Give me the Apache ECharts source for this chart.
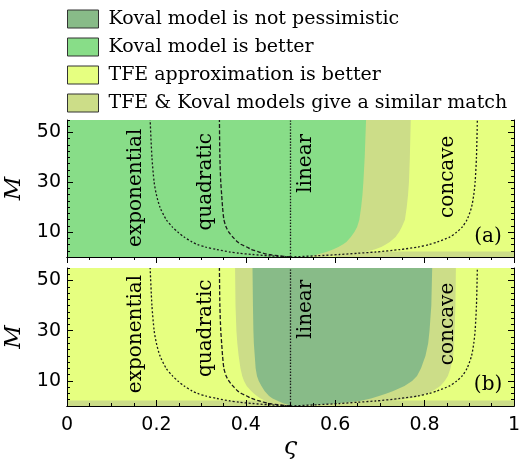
<!DOCTYPE html>
<html>
<head>
<meta charset="utf-8">
<script src="https://cdn.jsdelivr.net/npm/echarts@6/dist/echarts.min.js"></script>
<style>
html,body{margin:0;padding:0;background:#fff;}
#chart{width:519px;height:460px;}
</style>
</head>
<body>
<div id="chart"></div>
<script>
// ---------- data ----------
const M_GRID = [0, 0.5, 1, 1.5, 2, 3, 4, 5, 6, 8, 10, 12, 15, 20, 25, 30, 40, 55];

// reference curves (ς at each M of M_GRID)
const EXPONENTIAL = [0.5, 0.45, 0.415, 0.385, 0.365, 0.335, 0.31, 0.292, 0.28, 0.262, 0.248, 0.236, 0.222, 0.208, 0.2, 0.195, 0.19, 0.186];
const QUADRATIC   = [0.5, 0.472, 0.452, 0.44, 0.43, 0.413, 0.402, 0.39, 0.382, 0.371, 0.362, 0.356, 0.351, 0.348, 0.346, 0.344, 0.342, 0.341];
const CONCAVE     = [0.5, 0.56, 0.61, 0.65, 0.69, 0.745, 0.785, 0.81, 0.828, 0.856, 0.872, 0.884, 0.895, 0.905, 0.91, 0.913, 0.916, 0.918];
const LINEAR_X = 0.5;

// panel (a) region boundaries
const A_SIMILAR_FROM = [0.54, 0.55, 0.56, 0.57, 0.58, 0.595, 0.607, 0.617, 0.625, 0.635, 0.643, 0.649, 0.654, 0.658, 0.661, 0.663, 0.666, 0.669];
const A_TFE_FROM     = [0.58, 0.6, 0.62, 0.64, 0.665, 0.688, 0.703, 0.713, 0.722, 0.735, 0.743, 0.749, 0.756, 0.76, 0.763, 0.765, 0.767, 0.769];
const A_STRIP_FROM = 0.6;

// panel (b) region boundaries
const B_SIMILAR_LEFT  = [0.49, 0.475, 0.463, 0.452, 0.445, 0.433, 0.425, 0.418, 0.412, 0.402, 0.396, 0.392, 0.388, 0.384, 0.381, 0.379, 0.377, 0.376];
const B_SIMILAR_RIGHT = [0.55, 0.6, 0.65, 0.7, 0.73, 0.765, 0.79, 0.805, 0.818, 0.835, 0.845, 0.852, 0.858, 0.864, 0.866, 0.867, 0.869, 0.87];
const B_KOVAL_LEFT    = [0.5, 0.495, 0.485, 0.478, 0.472, 0.46, 0.452, 0.447, 0.442, 0.435, 0.429, 0.425, 0.422, 0.42, 0.418, 0.417, 0.416, 0.415];
const B_KOVAL_RIGHT   = [0.52, 0.56, 0.6, 0.63, 0.655, 0.68, 0.698, 0.715, 0.73, 0.755, 0.772, 0.783, 0.792, 0.802, 0.808, 0.811, 0.815, 0.817];

const STRIP_TOP_M = 2.2;

// axes
const X_MIN = 0, X_MAX = 1, X_STEP = 0.2;
const M_MIN = 0, M_MAX = 55;
const Y_TICKS = [10, 30, 50];
const Y_MINOR_STEP = 2.5;

// labels
const CURVE_LABELS = ['exponential', 'quadratic', 'linear', 'concave'];
const LABEL_X   = [0.155, 0.311, 0.535, 0.851];
const LABEL_M_A = [27.8, 30.2, 37.6, 32.2];
const LABEL_M_B = [28.7, 31.0, 38.6, 32.7];
const PANEL_TAGS = ['(a)', '(b)'];
const TAG_X = 0.942, TAG_M = [8.3, 8.4];

const NAMES = ['Koval model is not pessimistic', 'Koval model is better', 'TFE approximation is better', 'TFE & Koval models give a similar match'];
const COLORS = ['#88bb88', '#88dd88', '#e6ff80', '#ccdd88'];

// ---------- helpers ----------
const pts = xs => M_GRID.map((m, i) => [xs[i], m]);
const rightOf = xs => pts(xs).concat([[X_MAX, M_MAX], [X_MAX, M_MIN]]);
const between = (l, r) => pts(l).concat(pts(r).reverse());
const rect = (x0, x1, m0, m1) => [[x0, m0], [x1, m0], [x1, m1], [x0, m1]];

function poly(name, colorIdx, points, xi, yi, z) {
  const color = COLORS[colorIdx];
  return {
    type: 'custom', name: name, xAxisIndex: xi, yAxisIndex: yi, z: z, silent: true,
    itemStyle: { color: color }, data: [[0, 0]],
    renderItem: function (params, api) {
      return { type: 'polygon', shape: { points: points.map(p => api.coord(p)) }, style: { fill: color } };
    }
  };
}
function curve(xs, dash, xi, yi) {
  return {
    type: 'line', xAxisIndex: xi, yAxisIndex: yi, z: 8, silent: true, showSymbol: false, symbol: 'none',
    data: xs, smooth: 0.25,
    lineStyle: { color: '#1a1a1a', width: 1.3, type: dash }
  };
}
function labels(ms, xi, yi, tagIdx) {
  return {
    type: 'custom', xAxisIndex: xi, yAxisIndex: yi, z: 9, silent: true,
    data: CURVE_LABELS.map((t, i) => [LABEL_X[i], ms[i]]).concat([[TAG_X, TAG_M[tagIdx]]]),
    renderItem: function (params, api) {
      const p = api.coord([api.value(0), api.value(1)]);
      const isTag = params.dataIndex === CURVE_LABELS.length;
      return {
        type: 'text', x: p[0], y: p[1], rotation: isTag ? 0 : Math.PI / 2,
        style: {
          text: isTag ? PANEL_TAGS[tagIdx] : CURVE_LABELS[params.dataIndex],
          font: '20px "DejaVu Serif"', fill: '#000', align: 'center', verticalAlign: 'middle'
        }
      };
    }
  };
}

const axLine = { show: true, lineStyle: { color: '#000', width: 1 } };
function xAx(grid, pos, ticks, lbls) {
  const a = {
    gridIndex: grid, type: 'value', position: pos, min: X_MIN, max: X_MAX, interval: X_STEP, z: 10,
    axisLine: axLine, splitLine: { show: false },
    axisTick: { show: ticks, inside: true, length: 6, lineStyle: { color: '#000' } },
    minorTick: { show: ticks, splitNumber: 4, length: 3, lineStyle: { color: '#000' } },
    axisLabel: { show: lbls, fontFamily: 'DejaVu Sans', fontSize: 19, color: '#000', margin: 10 }
  };
  if (lbls) {
    a.name = 'ς'; a.nameLocation = 'middle'; a.nameGap = 28;
    a.nameTextStyle = { fontFamily: 'DejaVu Serif', fontStyle: 'italic', fontSize: 24, color: '#000' };
  }
  return a;
}
function yMajor(grid, pos) {
  const a = {
    gridIndex: grid, type: 'value', position: pos, min: M_MIN, max: M_MAX, interval: 10, z: 10,
    axisLine: axLine, splitLine: { show: false },
    axisTick: { show: true, inside: true, length: 6, customValues: Y_TICKS, lineStyle: { color: '#000' } },
    axisLabel: { show: pos === 'left', customValues: Y_TICKS, fontFamily: 'DejaVu Sans', fontSize: 19, color: '#000', margin: 6 }
  };
  if (pos === 'left') {
    a.name = 'M'; a.nameLocation = 'middle'; a.nameGap = 35; a.nameRotate = 90;
    a.nameTextStyle = { fontFamily: 'DejaVu Serif', fontStyle: 'italic', fontSize: 23, color: '#000' };
  }
  return a;
}
function yMinor(grid, pos) {
  return {
    gridIndex: grid, type: 'value', position: pos, min: M_MIN, max: M_MAX, interval: Y_MINOR_STEP, z: 10,
    axisLine: { show: false }, splitLine: { show: false }, axisLabel: { show: false },
    axisTick: { show: true, inside: true, length: 3, lineStyle: { color: '#000' } }
  };
}

const option = {
  animation: false,
  backgroundColor: '#fff',
  legend: {
    data: NAMES, orient: 'vertical', left: 67, top: 9, padding: 0,
    itemWidth: 31, itemHeight: 18, itemGap: 8, icon: 'rect', selectedMode: false,
    itemStyle: { borderColor: '#333', borderWidth: 1 },
    textStyle: { fontFamily: 'DejaVu Serif', fontSize: 19, lineHeight: 20, color: '#000', padding: [0, 0, 0, 5] }
  },
  grid: [
    { left: 67, top: 120, width: 447, height: 137, outerBoundsMode: 'none', containLabel: false },
    { left: 67, top: 268, width: 447, height: 138, outerBoundsMode: 'none', containLabel: false }
  ],
  xAxis: [
    xAx(0, 'bottom', false, false), xAx(0, 'top', true, false),
    xAx(1, 'bottom', true, true), xAx(1, 'top', false, false)
  ],
  yAxis: [
    yMajor(0, 'left'), yMinor(0, 'left'), yMajor(0, 'right'), yMinor(0, 'right'),
    yMajor(1, 'left'), yMinor(1, 'left'), yMajor(1, 'right'), yMinor(1, 'right')
  ],
  series: [
    poly(NAMES[0], 0, between(B_KOVAL_LEFT, B_KOVAL_RIGHT), 2, 4, 5),
    poly(NAMES[1], 1, rect(X_MIN, X_MAX, M_MIN, M_MAX), 0, 0, 1),
    poly(NAMES[2], 2, rightOf(A_TFE_FROM), 0, 0, 3),
    poly(NAMES[3], 3, rightOf(A_SIMILAR_FROM), 0, 0, 2),
    poly(NAMES[3], 3, rect(A_STRIP_FROM, X_MAX, M_MIN, STRIP_TOP_M), 0, 0, 4),
    poly(NAMES[2], 2, rect(X_MIN, X_MAX, M_MIN, M_MAX), 2, 4, 1),
    poly(NAMES[3], 3, between(B_SIMILAR_LEFT, B_SIMILAR_RIGHT), 2, 4, 2),
    poly(NAMES[3], 3, rect(X_MIN, X_MAX, M_MIN, STRIP_TOP_M), 2, 4, 3),
    curve(pts(EXPONENTIAL), [2, 2], 0, 0),
    curve(pts(QUADRATIC), [4, 2], 0, 0),
    curve([[LINEAR_X, M_MIN], [LINEAR_X, M_MAX]], [1.5, 1.5], 0, 0),
    curve(pts(CONCAVE), [2, 2], 0, 0),
    curve(pts(EXPONENTIAL), [2, 2], 2, 4),
    curve(pts(QUADRATIC), [4, 2], 2, 4),
    curve([[LINEAR_X, M_MIN], [LINEAR_X, M_MAX]], [1.5, 1.5], 2, 4),
    curve(pts(CONCAVE), [2, 2], 2, 4),
    labels(LABEL_M_A, 0, 0, 0),
    labels(LABEL_M_B, 2, 4, 1)
  ]
};
const chart = echarts.init(document.getElementById('chart'), null, { renderer: 'canvas' });
chart.setOption(option);
</script>
</body>
</html>
